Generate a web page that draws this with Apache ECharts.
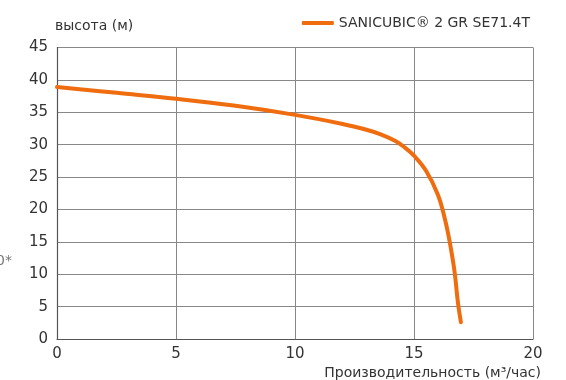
<!DOCTYPE html>
<html>
<head>
<meta charset="utf-8">
<script src="https://cdn.jsdelivr.net/npm/echarts@6/dist/echarts.min.js"></script>
<style>html,body{margin:0;padding:0;background:#fff}#c{width:566px;height:380px}</style>
</head>
<body>
<div id="c"></div>
<script>
var seriesName = 'SANICUBIC® 2 GR SE71.4T';
var flow = [0, 2.5, 5, 7.5, 10, 12, 13, 13.6, 14.2, 14.6, 15, 15.5, 16, 16.3, 16.5, 16.7, 16.85, 16.97];
var head = [38.9, 38.0, 37.1, 36.0, 34.6, 33.2, 32.3, 31.6, 30.6, 29.6, 28.3, 26.0, 22.3, 18.5, 15.0, 10.5, 5.5, 2.6];
var xTicks = [0, 5, 10, 15, 20];
var yTicks = [0, 5, 10, 15, 20, 25, 30, 35, 40, 45];

var font = '"DejaVu Sans", sans-serif';
var data = flow.map(function (x, i) { return [x, head[i]]; });
var chart = echarts.init(document.getElementById('c'));
chart.setOption({
  animation: false,
  textStyle: { fontFamily: font },
  grid: { left: 57, right: 33, top: 47.5, bottom: 40 },
  legend: {
    top: 11, right: 31, itemWidth: 32, itemHeight: 4, itemGap: 12,
    icon: 'roundRect',
    textStyle: { fontSize: 14, color: '#333', fontFamily: font },
    data: [seriesName]
  },
  graphic: [{
    type: 'text', left: -4, top: 254,
    style: { text: '0*', fontSize: 14, fill: '#777', fontFamily: font }
  }],
  xAxis: {
    type: 'value', min: xTicks[0], max: xTicks[xTicks.length - 1], interval: 5,
    name: 'Производительность (м³/час)', nameLocation: 'end',
    nameGap: 0,
    nameTextStyle: { fontSize: 14, color: '#333', align: 'right', verticalAlign: 'top', padding: [27, -8, 0, 0] },
    axisLine: { lineStyle: { color: '#555', width: 1.2 } },
    axisTick: { show: false },
    axisLabel: { fontSize: 15, color: '#333', margin: 8 },
    splitLine: { lineStyle: { color: '#888', width: 1 } }
  },
  yAxis: {
    type: 'value', min: yTicks[0], max: yTicks[yTicks.length - 1], interval: 5,
    name: 'высота (м)', nameLocation: 'end', nameGap: 14,
    nameTextStyle: { fontSize: 14, color: '#333', align: 'left', padding: [0, 0, 0, -2] },
    axisLine: { show: true, lineStyle: { color: '#555', width: 1.2 } },
    axisTick: { show: false },
    axisLabel: { fontSize: 15, color: '#333', margin: 9 },
    splitLine: { lineStyle: { color: '#888', width: 1 } }
  },
  series: [{
    name: seriesName, type: 'line', data: data, smooth: 0.4,
    showSymbol: false, symbol: 'none',
    lineStyle: { color: '#EF6C0F', width: 4, cap: 'round' },
    itemStyle: { color: '#EF6C0F' }
  }]
});
</script>
</body>
</html>
